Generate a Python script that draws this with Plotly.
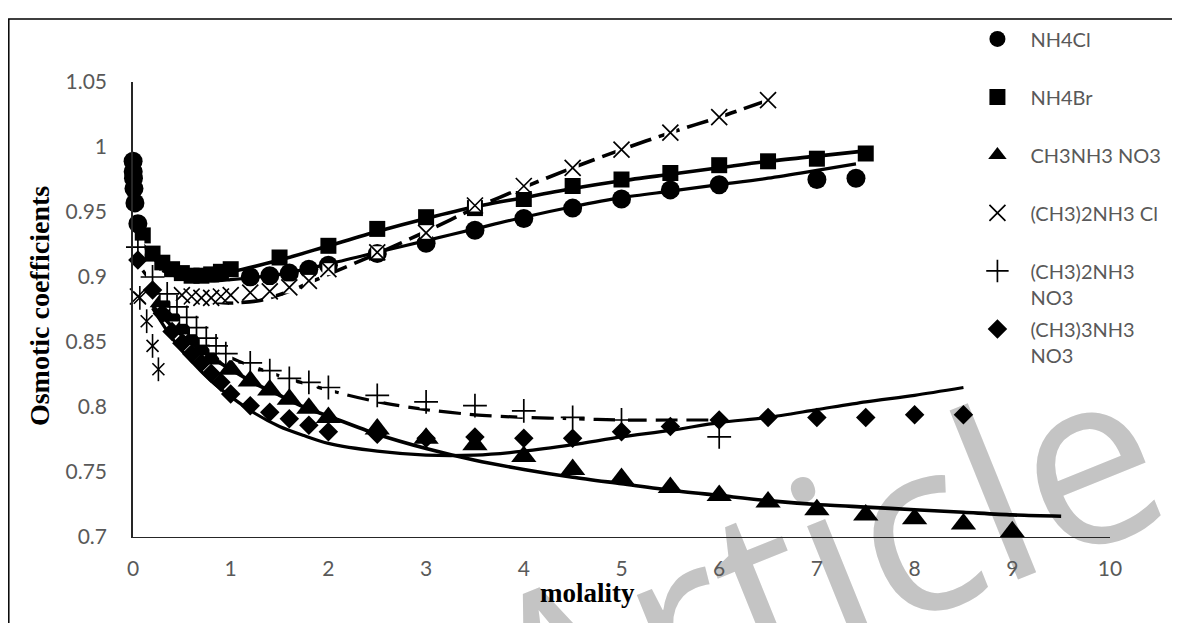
import plotly.graph_objects as go

# ---------------- data ----------------
nh4cl_x = [0.001, 0.002, 0.005, 0.01, 0.02, 0.05, 1.2, 1.4, 1.6, 1.8, 2.0, 2.5, 3.0, 3.5, 4.0, 4.5, 5.0, 5.5, 6.0, 7.0, 7.4]
nh4cl_y = [0.989, 0.981, 0.976, 0.968, 0.957, 0.941, 0.900, 0.901, 0.903, 0.906, 0.909, 0.918, 0.926, 0.936, 0.945, 0.953, 0.960, 0.967, 0.971, 0.975, 0.976]

nh4br_x = [0.1, 0.2, 0.3, 0.4, 0.5, 0.6, 0.7, 0.8, 0.9, 1.0, 1.5, 2.0, 2.5, 3.0, 3.5, 4.0, 4.5, 5.0, 5.5, 6.0, 6.5, 7.0, 7.5]
nh4br_y = [0.932, 0.918, 0.911, 0.906, 0.903, 0.901, 0.901, 0.902, 0.904, 0.906, 0.915, 0.924, 0.937, 0.946, 0.953, 0.960, 0.970, 0.975, 0.980, 0.986, 0.989, 0.991, 0.995]

mano3_x = [0.3, 0.4, 0.5, 0.6, 0.7, 0.8, 1.0, 1.2, 1.4, 1.6, 1.8, 2.0, 2.5, 3.0, 3.5, 4.0, 4.5, 5.0, 5.5, 6.0, 6.5, 7.0, 7.5, 8.0, 8.5, 9.0]
mano3_y = [0.881, 0.870, 0.860, 0.852, 0.844, 0.837, 0.829, 0.820, 0.813, 0.806, 0.799, 0.792, 0.783, 0.776, 0.771, 0.762, 0.752, 0.745, 0.738, 0.732, 0.727, 0.721, 0.717, 0.714, 0.710, 0.704]

dmacl_x = [0.05, 0.5, 0.6, 0.7, 0.8, 0.9, 1.0, 1.2, 1.4, 1.6, 1.8, 2.0, 2.5, 3.0, 3.5, 4.0, 4.5, 5.0, 5.5, 6.0, 6.5]
dmacl_y = [0.885, 0.886, 0.885, 0.884, 0.884, 0.885, 0.886, 0.888, 0.889, 0.892, 0.897, 0.906, 0.919, 0.934, 0.955, 0.970, 0.984, 0.998, 1.011, 1.023, 1.036]

dmano3_x = [0.05, 0.2, 0.35, 0.45, 0.55, 0.65, 0.75, 0.85, 0.95, 1.2, 1.4, 1.6, 1.8, 2.0, 2.5, 3.0, 3.5, 4.0, 4.5, 5.0, 6.0]
dmano3_y = [0.923, 0.900, 0.887, 0.877, 0.869, 0.861, 0.853, 0.847, 0.841, 0.834, 0.828, 0.822, 0.819, 0.815, 0.809, 0.804, 0.801, 0.797, 0.792, 0.790, 0.777]

tmano3_x = [0.05, 0.2, 0.3, 0.4, 0.5, 0.6, 0.7, 0.8, 0.9, 1.0, 1.2, 1.4, 1.6, 1.8, 2.0, 2.5, 3.0, 3.5, 4.0, 4.5, 5.0, 5.5, 6.0, 6.5, 7.0, 7.5, 8.0, 8.5]
tmano3_y = [0.913, 0.890, 0.872, 0.858, 0.849, 0.841, 0.834, 0.826, 0.819, 0.810, 0.801, 0.796, 0.791, 0.786, 0.781, 0.779, 0.776, 0.777, 0.776, 0.776, 0.781, 0.785, 0.790, 0.792, 0.792, 0.792, 0.794, 0.794]

# unlabelled asterisk points near the origin
aster_x = [0.07, 0.14, 0.2, 0.26]
aster_y = [0.884, 0.866, 0.847, 0.829]

# fitted model curves
fit_nh4cl_x = [0.3, 0.5, 0.8, 1.0, 1.5, 2.0, 2.5, 3.0, 3.5, 4.0, 4.5, 5.0, 5.5, 6.0, 6.5, 7.0, 7.4]
fit_nh4cl_y = [0.905, 0.899, 0.897, 0.898, 0.902, 0.910, 0.919, 0.928, 0.937, 0.946, 0.954, 0.961, 0.966, 0.971, 0.976, 0.982, 0.987]

fit_nh4br_x = [0.1, 0.3, 0.5, 0.7, 1.0, 1.5, 2.0, 2.5, 3.0, 3.5, 4.0, 4.5, 5.0, 5.5, 6.0, 6.5, 7.0, 7.5]
fit_nh4br_y = [0.925, 0.908, 0.902, 0.901, 0.904, 0.913, 0.924, 0.935, 0.945, 0.954, 0.961, 0.968, 0.974, 0.979, 0.984, 0.989, 0.993, 0.997]

fit_mano3_x = [0.2, 0.4, 0.6, 0.8, 1.0, 1.25, 1.5, 1.75, 2.0, 2.5, 3.0, 3.5, 4.0, 4.5, 5.0, 5.5, 6.0, 6.5, 7.0, 7.5, 8.0, 8.5, 9.0, 9.5]
fit_mano3_y = [0.878, 0.862, 0.849, 0.838, 0.829, 0.818, 0.809, 0.800, 0.793, 0.779, 0.768, 0.759, 0.752, 0.746, 0.741, 0.736, 0.732, 0.728, 0.725, 0.723, 0.721, 0.719, 0.717, 0.716]

fit_dmacl_x = [0.5, 0.8, 1.0, 1.3, 1.6, 2.0, 2.5, 3.0, 3.5, 4.0, 4.5, 5.0, 5.5, 6.0, 6.5]
fit_dmacl_y = [0.884, 0.881, 0.880, 0.882, 0.889, 0.902, 0.918, 0.935, 0.953, 0.969, 0.984, 0.998, 1.011, 1.023, 1.036]

fit_dmano3_x = [0.1, 0.3, 0.5, 0.7, 1.0, 1.5, 2.0, 2.5, 3.0, 3.5, 4.0, 4.5, 5.0, 5.5, 6.0]
fit_dmano3_y = [0.905, 0.885, 0.866, 0.852, 0.838, 0.824, 0.813, 0.804, 0.798, 0.794, 0.792, 0.791, 0.790, 0.790, 0.790]

fit_tmano3_x = [0.2, 0.4, 0.6, 0.8, 1.0, 1.25, 1.5, 1.75, 2.0, 2.5, 3.0, 3.5, 4.0, 4.5, 5.0, 5.5, 6.0, 6.5, 7.0, 7.5, 8.0, 8.5]
fit_tmano3_y = [0.876, 0.853, 0.835, 0.820, 0.808, 0.795, 0.785, 0.778, 0.772, 0.766, 0.763, 0.763, 0.766, 0.771, 0.777, 0.782, 0.788, 0.792, 0.798, 0.804, 0.809, 0.815]

x_ticks = [0, 1, 2, 3, 4, 5, 6, 7, 8, 9, 10]
y_ticks = [0.7, 0.75, 0.8, 0.85, 0.9, 0.95, 1.0, 1.05]
y_tick_text = ["0.7", "0.75", "0.8", "0.85", "0.9", "0.95", "1", "1.05"]

labels = ["NH4Cl", "NH4Br", "CH3NH3 NO3", "(CH3)2NH3 Cl", "(CH3)2NH3<br>NO3", "(CH3)3NH3<br>NO3"]

# ---------------- figure ----------------
# (page has an 8px body margin; pixel targets below are in figure coordinates)
W, H = 1180, 623
L, T = 125, 66
PW, PH = 977, 463
R, B = W - L - PW, H - T - PH

def px(xp):
    return (xp - L) / PW

def py(yp):
    return (T + PH - yp) / PH

fig = go.Figure()
BLK = "black"
SP = "\u00a0"

curves = [
    (fit_nh4cl_x, fit_nh4cl_y, "solid", 3.2),
    (fit_nh4br_x, fit_nh4br_y, "solid", 3.6),
    (fit_mano3_x, fit_mano3_y, "solid", 3.6),
    (fit_dmacl_x, fit_dmacl_y, "22px,8px", 3.6),
    (fit_dmano3_x, fit_dmano3_y, "22px,9px", 3.2),
    (fit_tmano3_x, fit_tmano3_y, "solid", 3.2),
]
for cx, cy, dash, w in curves:
    fig.add_trace(go.Scatter(x=cx, y=cy, mode="lines", showlegend=False, hoverinfo="skip",
                             line=dict(color=BLK, width=w, dash=dash, shape="spline", smoothing=0.8)))

def legend_text(t):
    return t if "<br>" in t else t + "<br>" + SP

def add_markers(xs, ys, name, symbol, size, group, white_box=False, lw=1.6):
    if white_box:
        fig.add_trace(go.Scatter(x=xs, y=ys, mode="markers", showlegend=False, hoverinfo="skip",
                                 cliponaxis=False,
                                 marker=dict(symbol="square", size=size - 4, color="white", line=dict(width=0))))
    open_sym = symbol.endswith("-open")
    fig.add_trace(go.Scatter(
        x=xs, y=ys, mode="markers", name=legend_text(name), legendgroup=group,
        cliponaxis=False,
        marker=dict(symbol=symbol, size=size, color=BLK,
                    line=dict(color=BLK, width=lw if open_sym else 0))))

add_markers(nh4cl_x, nh4cl_y, labels[0], "circle", 19, "g1")
add_markers(nh4br_x, nh4br_y, labels[1], "square", 16, "g2")
add_markers(mano3_x, mano3_y, labels[2], "triangle-up", 22, "g3")
add_markers(dmacl_x, dmacl_y, labels[3], "x-thin-open", 16, "g4", white_box=True, lw=1.7)
add_markers(dmano3_x, dmano3_y, labels[4], "cross-thin-open", 17, "g5", white_box=True, lw=1.7)
add_markers(tmano3_x, tmano3_y, labels[5], "diamond", 15, "g6")

# asterisk points (no legend entry): X plus vertical stroke
fig.add_trace(go.Scatter(x=aster_x, y=aster_y, mode="markers", showlegend=False, cliponaxis=False,
                         marker=dict(symbol="x-thin-open", size=12, color=BLK, line=dict(color=BLK, width=1.6))))
fig.add_trace(go.Scatter(x=aster_x, y=aster_y, mode="markers", showlegend=False, cliponaxis=False,
                         marker=dict(symbol="line-ns-open", size=17, color=BLK, line=dict(color=BLK, width=1.6))))

tick_font = dict(family="Lato, 'Open Sans', sans-serif", size=21, color="#595959")
title_font = dict(family="'Liberation Serif', 'Times New Roman', serif", size=27, color="black")
ytitle_font = dict(family="'Liberation Serif', 'Times New Roman', serif", size=28, color="black")

# watermark centre (figure px)
WX, WY = 816, 568

fig.update_layout(
    width=W, height=H,
    margin=dict(l=L, r=R, t=T, b=B),
    paper_bgcolor="white", plot_bgcolor="white",
    showlegend=True,
    legend=dict(
        x=0.851, xanchor="left", y=1.1375, yanchor="top",
        bgcolor="rgba(0,0,0,0)", borderwidth=0, maxheight=1000,
        font=dict(family="Lato, 'Open Sans', sans-serif", size=20, color="#595959"),
        itemwidth=56, valign="top", tracegroupgap=3, traceorder="grouped",
    ),
    xaxis=dict(range=[0, 10], tickvals=x_ticks, showgrid=False, zeroline=False,
               showline=True, linecolor="#262626", linewidth=1.4, ticks="",
               tickfont=tick_font, ticklabelstandoff=13),
    yaxis=dict(range=[0.7, 1.05], tickvals=y_ticks, ticktext=y_tick_text, showgrid=False,
               zeroline=False, showline=True, linecolor="#262626", linewidth=1.6, ticks="",
               tickfont=tick_font, ticklabelstandoff=20),
    annotations=[
        dict(text="<b>molality</b>", xref="paper", yref="paper",
             x=px(579), y=py(586), xanchor="center", yanchor="middle",
             showarrow=False, font=title_font),
        dict(text="<b>Osmotic coefficients</b>", xref="paper", yref="paper",
             x=px(31), y=py(294), xanchor="center", yanchor="middle",
             textangle=-90, showarrow=False, font=ytitle_font),
    ],
    shapes=[
        # outer frame (top and left edges visible)
        dict(type="rect", xref="paper", yref="paper",
             x0=px(0.8), x1=px(W + 40), y0=py(H + 40), y1=py(2),
             line=dict(color="black", width=1.5), fillcolor="rgba(0,0,0,0)", layer="below"),
        # watermark
        dict(type="rect", xref="paper", yref="paper",
             x0=px(WX - 240), x1=px(WX + 240), y0=py(WY + 90), y1=py(WY - 90),
             line=dict(width=0), fillcolor="rgba(0,0,0,0)", layer="below",
             label=dict(text="Article", textposition="middle center", textangle=-22,
                        font=dict(family="'Open Sans', sans-serif", size=240, color="#c4c4c4"))),
    ],
)

fig.write_html("out.html")
